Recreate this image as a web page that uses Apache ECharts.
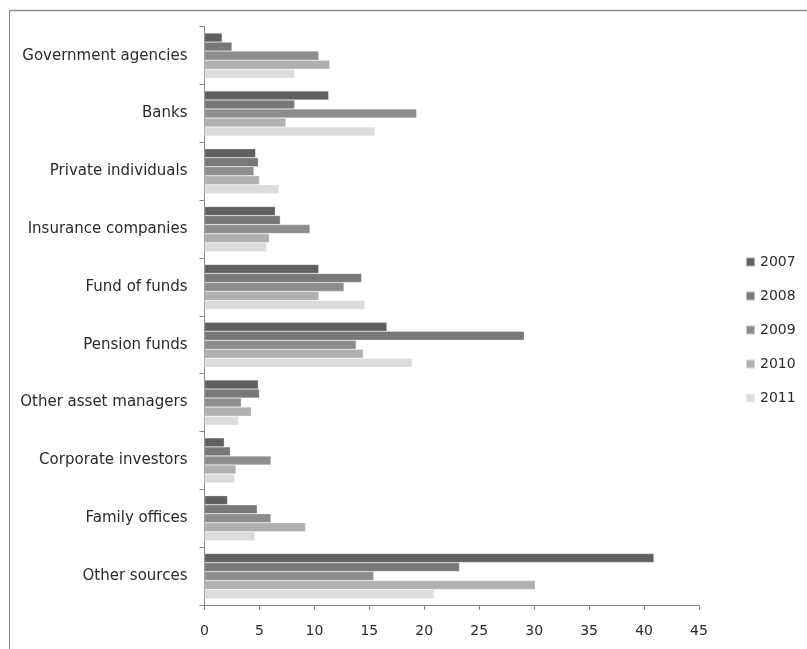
<!DOCTYPE html>
<html>
<head>
<meta charset="utf-8">
<script src="https://cdn.jsdelivr.net/npm/echarts@6/dist/echarts.min.js"></script>
<style>html,body{margin:0;padding:0;background:#fff;}#c{width:807px;height:649px;}</style>
</head>
<body>
<div id="c"></div>
<script>
const categories = ["Government agencies","Banks","Private individuals","Insurance companies","Fund of funds","Pension funds","Other asset managers","Corporate investors","Family offices","Other sources"];
const years = ["2007","2008","2009","2010","2011"];
const v2007 = [1.6, 11.3, 4.65, 6.45, 10.4, 16.6, 4.9, 1.8, 2.1, 40.9];
const v2008 = [2.5, 8.2, 4.9, 6.9, 14.3, 29.1, 5.0, 2.35, 4.8, 23.2];
const v2009 = [10.4, 19.3, 4.5, 9.6, 12.7, 13.8, 3.35, 6.05, 6.05, 15.4];
const v2010 = [11.4, 7.4, 5.0, 5.9, 10.4, 14.45, 4.26, 2.87, 9.2, 30.1];
const v2011 = [8.2, 15.5, 6.8, 5.65, 14.6, 18.9, 3.1, 2.75, 4.6, 20.9];
const xTicks = [0,5,10,15,20,25,30,35,40,45];

const values = [v2007, v2008, v2009, v2010, v2011];
const colors = ["#606060","#787878","#8d8d8d","#b0b0b0","#dcdcdc"];
const font = "DejaVu Sans";

const chart = echarts.init(document.getElementById('c'), null, {renderer:'canvas'});
chart.setOption({
  animation: false,
  backgroundColor: '#fff',
  textStyle: {fontFamily: font},
  grid: {left: 204.5, right: 108, top: 26.7, bottom: 44, containLabel: false},
  legend: {
    orient: 'vertical', left: 740, top: 250,
    itemWidth: 9, itemHeight: 9, itemGap: 20,
    icon: 'rect',
    textStyle: {fontFamily: font, fontSize: 14, color: '#2a2a2a'},
    data: years
  },
  xAxis: {
    type: 'value', min: xTicks[0], max: xTicks[xTicks.length-1], interval: 5,
    axisLine: {show: true, lineStyle: {color: '#8a8a8a'}},
    axisTick: {show: true, length: 5, lineStyle: {color: '#8a8a8a'}},
    axisLabel: {fontFamily: font, fontSize: 14, color: '#2a2a2a', margin: 19},
    splitLine: {show: false}
  },
  yAxis: {
    type: 'category', inverse: true, data: categories,
    axisLine: {show: true, lineStyle: {color: '#8a8a8a'}},
    axisTick: {show: true, length: 5, lineStyle: {color: '#8a8a8a'}},
    axisLabel: {fontFamily: font, fontSize: 15, color: '#2a2a2a', margin: 17}
  },
  graphic: [
    {type: 'line', shape: {x1: 9.5, y1: 10.5, x2: 807, y2: 10.5}, style: {stroke: '#8c8c8c', lineWidth: 1.5}, silent: true},
    {type: 'line', shape: {x1: 9.5, y1: 10.5, x2: 9.5, y2: 649}, style: {stroke: '#8c8c8c', lineWidth: 1}, silent: true}
  ],
  series: years.map((y, i) => ({
    name: y, type: 'bar', data: values[i],
    barGap: '0%', barCategoryGap: '22%',
    itemStyle: {color: colors[i], borderColor: 'rgba(255,255,255,0.5)', borderWidth: 0.5}
  }))
});
</script>
</body>
</html>
